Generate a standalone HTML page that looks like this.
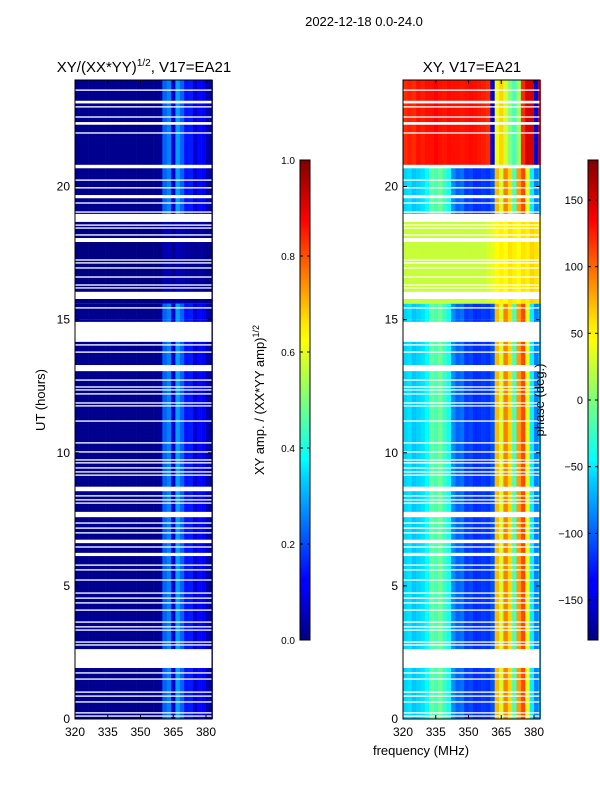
<!DOCTYPE html>
<html><head><meta charset="utf-8"><style>
body{margin:0;background:#fff;}
svg text{font-family:"Liberation Sans","DejaVu Sans",sans-serif;fill:#000;}
</style></head><body>
<svg id="fig" width="600" height="800" xmlns="http://www.w3.org/2000/svg">
<defs>
<linearGradient id="jetv" x1="0" y1="1" x2="0" y2="0">
<stop offset="0" stop-color="#000080"/><stop offset="0.11" stop-color="#0000ff"/><stop offset="0.125" stop-color="#0000ff"/>
<stop offset="0.34" stop-color="#00d4ff"/><stop offset="0.375" stop-color="#00ffff"/><stop offset="0.5" stop-color="#7dff7a"/>
<stop offset="0.625" stop-color="#ffff00"/><stop offset="0.66" stop-color="#ffe600"/><stop offset="0.875" stop-color="#ff0000"/><stop offset="1" stop-color="#800000"/>
</linearGradient>
</defs>
<text x="364" y="26" font-size="13" text-anchor="middle">2022-12-18 0.0-24.0</text>
<text x="144" y="72" font-size="15" text-anchor="middle">XY/(XX*YY)<tspan font-size="10" dy="-6">1/2</tspan><tspan dy="6">, V17=EA21</tspan></text>
<text x="472" y="72" font-size="15" text-anchor="middle">XY, V17=EA21</text>
<g id="ampPanel"></g>
<g id="phPanel"></g>
<g id="axes"></g>
<rect x="300" y="160" width="10" height="480" fill="url(#jetv)" stroke="#000" stroke-width="1"/>
<rect x="588" y="160" width="10" height="480" fill="url(#jetv)" stroke="#000" stroke-width="1"/>
<g id="cbticks"></g>
<text transform="translate(45,400) rotate(-90)" font-size="13" text-anchor="middle">UT (hours)</text>
<text transform="translate(264,400) rotate(-90)" font-size="13" text-anchor="middle">XY amp. / (XX*YY amp)<tspan font-size="9" dy="-5">1/2</tspan></text>
<text transform="translate(544,400) rotate(-90)" font-size="13" text-anchor="middle">phase (deg.)</text>
<text x="421" y="755" font-size="13" text-anchor="middle">frequency (MHz)</text>
</svg>
<script>
// ---- data ----
const freqBins = [320,322,324,326,328,330,332,334,336,338,340,342,344,346,348,350,352,354,356,358,360,362,364,366,368,370,372,374,376,378,380,382];
const ampProfile = [0.015,0.015,0.015,0.015,0.015,0.015,0.015,0.015,0.015,0.015,0.015,0.015,0.015,0.015,0.015,0.015,0.015,0.015,0.015,0.02,0.22,0.25,0.08,0.28,0.22,0.14,0.15,0.08,0.13,0.12,0.04,0.03];
const phaseBlue = [-60,-55,-65,-60,-55,-45,-10,-20,-5,-25,-40,-85,-100,-95,-115,-110,-120,-118,-115,-118,-105,70,30,90,60,-20,80,110,40,-50,-90,-70];
const phaseYellow = [25,25,25,25,25,25,25,25,25,25,25,25,25,25,25,25,25,25,25,30,35,45,50,45,55,50,45,55,50,60,55,50];
const phaseRed = [120,125,120,130,125,130,130,135,130,128,132,130,130,128,130,132,130,128,125,120,-150,40,60,30,0,-20,10,120,150,150,-150,130];
// segments: [startHour, endHour, type, ampScale]
const segStart = [0, 15.0, 15.6, 18.9, 20.8];
const segEnd   = [15.0, 15.6, 18.9, 20.8, 24.0];
const segType  = ["blue","blue","yellow","blue","red"];
const segAmp   = [1.0, 1.0, 0.2, 1.0, 1.0];
// white gaps (no data): centers and widths in hours
const gapCenter = [23.62,23.17,22.99,22.61,22.37,22.01,20.75,20.24,19.95,19.62,19.38,19.04,18.82,18.55,18.44,18.18,17.99,17.24,17.13,16.94,16.60,16.30,16.19,15.91,15.44,14.54,14.05,13.78,13.18,12.73,12.47,12.36,12.21,11.87,11.76,11.19,10.37,10.03,9.73,9.62,9.43,9.28,9.16,8.64,8.38,8.23,8.11,7.68,7.36,7.17,6.99,6.67,6.46,6.18,5.78,5.60,5.22,4.73,4.54,4.36,4.09,3.64,3.46,3.34,2.89,2.78,2.27,1.73,1.50,1.01,0.86,0.64,0.23,0.11];
const gapWidth  = [0.05,0.1,0.05,0.05,0.1,0.05,0.13,0.05,0.05,0.12,0.05,0.05,0.3,0.05,0.05,0.05,0.15,0.05,0.05,0.05,0.05,0.05,0.05,0.27,0.05,0.75,0.05,0.05,0.23,0.05,0.05,0.05,0.05,0.05,0.05,0.05,0.05,0.05,0.05,0.05,0.05,0.05,0.05,0.17,0.05,0.05,0.05,0.2,0.05,0.05,0.05,0.13,0.05,0.12,0.05,0.05,0.05,0.05,0.05,0.05,0.05,0.05,0.05,0.05,0.05,0.05,0.71,0.05,0.05,0.05,0.05,0.05,0.05,0.05];
const yTicks = [0,5,10,15,20];
const xTicks = [320,335,350,365,380];
const ampCbTicks = [0.0,0.2,0.4,0.6,0.8,1.0];
const phCbTicks = [-150,-100,-50,0,50,100,150];

// ---- scales ----
const NS="http://www.w3.org/2000/svg";
const yTop=80, yBot=719, hMax=24;
function yS(h){return yBot-(h/hMax)*(yBot-yTop);}
function xS(f,x0){return x0+(f-320)*(131/60);}
const fMax=383;
function jet(v){v=Math.max(0,Math.min(1,v));
 const r=Math.max(0,Math.min(1,1.5-Math.abs(4*v-3)));
 const g=Math.max(0,Math.min(1,1.5-Math.abs(4*v-2)));
 const b=Math.max(0,Math.min(1,1.5-Math.abs(4*v-1)));
 return `rgb(${Math.round(r*255)},${Math.round(g*255)},${Math.round(b*255)})`;}
function el(tag,attrs,parent){const e=document.createElementNS(NS,tag);for(const k in attrs)e.setAttribute(k,attrs[k]);parent.appendChild(e);return e;}
const profiles={blue:phaseBlue,yellow:phaseYellow,red:phaseRed};

function drawPanel(gId,x0,isAmp){
 const g=document.getElementById(gId);
 for(let s=0;s<segStart.length;s++){
  const y1=yS(segEnd[s]), y2=yS(segStart[s]);
  for(let i=0;i<freqBins.length;i++){
   const fa=freqBins[i], fb=Math.min(fMax, i+1<freqBins.length?freqBins[i+1]:fMax);
   const xa=xS(fa,x0), xb=xS(fb,x0);
   const v = isAmp ? ampProfile[i]*segAmp[s] : (profiles[segType[s]][i]+180)/360;
   const r=el('rect',{x:xa,y:y1,width:xb-xa+0.3,height:y2-y1,fill:jet(v)},g);
   
   
  }
 }
 for(let k=0;k<gapCenter.length;k++){
  const ya=yS(gapCenter[k]+gapWidth[k]/2), yb=yS(gapCenter[k]-gapWidth[k]/2);
  const r=el('rect',{x:x0,y:ya,width:137,height:Math.max(1.2,yb-ya),fill:'#fff'},g);
  
  
 }
}
drawPanel('ampPanel',75,true);
drawPanel('phPanel',403,false);

const ax=document.getElementById('axes');
[75,403].forEach(x0=>{
 const f=el('rect',{x:x0,y:yTop,width:137,height:yBot-yTop,fill:'none',stroke:'#000','stroke-width':1},ax);
 
 
 yTicks.forEach(t=>{const y=yS(t);
  el('line',{x1:x0,y1:y,x2:x0+4,y2:y,stroke:'#000'},ax);
  el('line',{x1:x0+137,y1:y,x2:x0+133,y2:y,stroke:'#000'},ax);
  const tx=el('text',{x:x0-5,y:y+4,'font-size':12,'text-anchor':'end'},ax);tx.textContent=t;
  
  
 });
 xTicks.forEach(t=>{const x=xS(t,x0);
  el('line',{x1:x,y1:yBot,x2:x,y2:yBot-4,stroke:'#000'},ax);
  el('line',{x1:x,y1:yTop,x2:x,y2:yTop+4,stroke:'#000'},ax);
  const tx=el('text',{x:x,y:yBot+17,'font-size':12,'text-anchor':'middle'},ax);tx.textContent=t;
  
  
 });
});
const cb=document.getElementById('cbticks');
ampCbTicks.forEach(t=>{const y=640-t*480;
 el('line',{x1:300,y1:y,x2:303,y2:y,stroke:'#000'},cb);
 el('line',{x1:310,y1:y,x2:307,y2:y,stroke:'#000'},cb);
 const tx=el('text',{x:295,y:y+4,'font-size':10,'text-anchor':'end'},cb);tx.textContent=t.toFixed(1);
 
 
});
phCbTicks.forEach(t=>{const y=640-(t+180)/360*480;
 el('line',{x1:588,y1:y,x2:591,y2:y,stroke:'#000'},cb);
 el('line',{x1:598,y1:y,x2:595,y2:y,stroke:'#000'},cb);
 const tx=el('text',{x:583,y:y+4,'font-size':11,'text-anchor':'end'},cb);tx.textContent=t<0?'\u2212'+(-t):t;
 
 
});
</script>
</body></html>
